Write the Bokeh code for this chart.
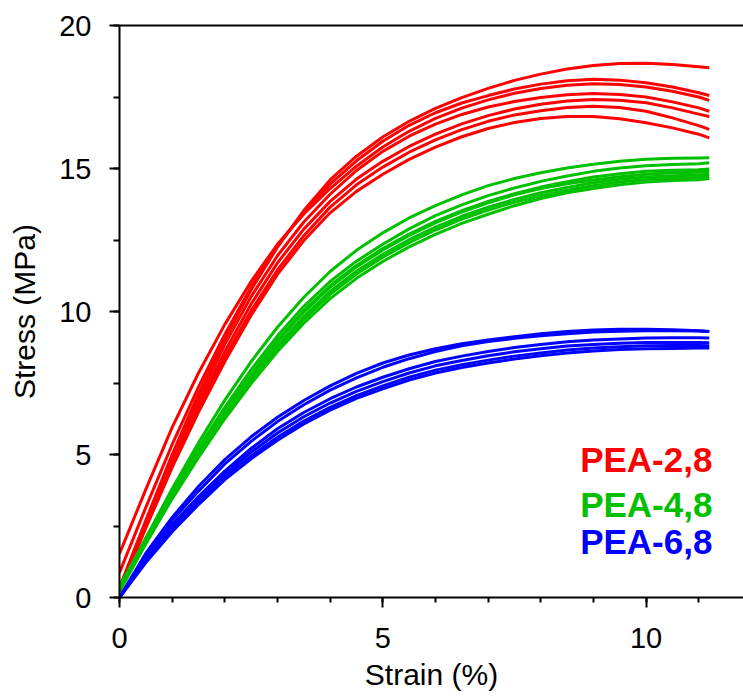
from bokeh.plotting import figure
from bokeh.models import Range1d, SingleIntervalTicker, LinearAxis, Label
from bokeh.embed import file_html
from bokeh.resources import INLINE

# Strain (%) sample positions shared by all curves
strain = [0, 0.5, 1, 1.5, 2, 2.5, 3, 3.5, 4, 4.5, 5, 5.5, 6, 6.5, 7, 7.5,
          8, 8.5, 9, 9.5, 10, 10.5, 11, 11.2]

# Stress (MPa) curves
pea_2_8 = [
    [0.35, 2.7, 5.0, 7.12, 9.05, 10.76, 12.25, 13.53, 14.6, 15.43, 16.1, 16.65, 17.1, 17.48, 17.8, 18.08, 18.3, 18.48, 18.6, 18.67, 18.68, 18.64, 18.56, 18.52],
    [0.87, 3.15, 5.35, 7.36, 9.2, 10.86, 12.3, 13.48, 14.45, 15.27, 15.95, 16.51, 16.95, 17.29, 17.55, 17.78, 17.95, 18.07, 18.12, 18.09, 18.0, 17.85, 17.65, 17.55],
    [1.53, 3.78, 5.95, 7.85, 9.55, 11.05, 12.35, 13.41, 14.3, 15.08, 15.75, 16.3, 16.75, 17.11, 17.4, 17.63, 17.8, 17.91, 17.96, 17.94, 17.85, 17.7, 17.5, 17.38],
    [0.3, 2.6, 4.8, 6.91, 8.85, 10.52, 11.95, 13.13, 14.1, 14.93, 15.6, 16.13, 16.55, 16.89, 17.15, 17.34, 17.48, 17.58, 17.62, 17.59, 17.5, 17.33, 17.12, 17.0],
    [0.25, 2.52, 4.7, 6.73, 8.6, 10.26, 11.7, 12.88, 13.85, 14.63, 15.25, 15.77, 16.2, 16.56, 16.85, 17.08, 17.25, 17.36, 17.41, 17.39, 17.3, 17.12, 16.9, 16.82],
    [0.3, 2.5, 4.6, 6.58, 8.4, 10.03, 11.45, 12.65, 13.65, 14.43, 15.05, 15.57, 16.0, 16.36, 16.65, 16.87, 17.02, 17.13, 17.18, 17.13, 17.0, 16.77, 16.5, 16.37],
    [0.2, 2.43, 4.55, 6.48, 8.25, 9.87, 11.3, 12.48, 13.45, 14.2, 14.8, 15.32, 15.75, 16.11, 16.4, 16.61, 16.75, 16.82, 16.82, 16.74, 16.6, 16.42, 16.2, 16.07],
]
pea_4_8 = [
    [0.3, 2.08, 3.8, 5.41, 6.9, 8.25, 9.45, 10.5, 11.4, 12.14, 12.75, 13.27, 13.7, 14.08, 14.4, 14.65, 14.85, 15.02, 15.15, 15.25, 15.32, 15.36, 15.37, 15.38],
    [0.35, 2.06, 3.7, 5.23, 6.65, 7.97, 9.15, 10.18, 11.05, 11.76, 12.35, 12.89, 13.35, 13.73, 14.05, 14.32, 14.55, 14.74, 14.9, 15.02, 15.1, 15.14, 15.17, 15.2],
    [0.3, 1.98, 3.6, 5.1, 6.5, 7.81, 9.0, 10.03, 10.9, 11.61, 12.2, 12.71, 13.15, 13.53, 13.85, 14.12, 14.35, 14.54, 14.7, 14.82, 14.9, 14.94, 14.96, 14.98],
    [0.25, 1.93, 3.55, 5.05, 6.45, 7.76, 8.95, 9.98, 10.85, 11.56, 12.15, 12.66, 13.1, 13.48, 13.8, 14.08, 14.3, 14.47, 14.6, 14.71, 14.8, 14.85, 14.87, 14.9],
    [0.4, 2.03, 3.6, 5.05, 6.4, 7.66, 8.8, 9.82, 10.7, 11.41, 12.0, 12.51, 12.95, 13.33, 13.65, 13.92, 14.15, 14.34, 14.5, 14.62, 14.7, 14.75, 14.77, 14.8],
    [0.2, 1.88, 3.5, 4.96, 6.3, 7.56, 8.7, 9.72, 10.6, 11.31, 11.9, 12.41, 12.85, 13.23, 13.55, 13.82, 14.05, 14.24, 14.4, 14.53, 14.62, 14.66, 14.69, 14.72],
    [0.3, 1.9, 3.45, 4.9, 6.25, 7.48, 8.6, 9.59, 10.45, 11.16, 11.75, 12.26, 12.7, 13.08, 13.4, 13.7, 13.95, 14.15, 14.3, 14.43, 14.53, 14.58, 14.61, 14.65],
]
pea_6_8 = [
    [0.0, 1.55, 2.8, 3.88, 4.82, 5.62, 6.3, 6.89, 7.4, 7.84, 8.2, 8.48, 8.7, 8.87, 9.0, 9.12, 9.22, 9.3, 9.35, 9.38, 9.38, 9.36, 9.33, 9.3],
    [0.0, 1.5, 2.7, 3.72, 4.67, 5.46, 6.15, 6.74, 7.25, 7.68, 8.05, 8.35, 8.6, 8.8, 8.95, 9.06, 9.15, 9.22, 9.28, 9.31, 9.33, 9.33, 9.32, 9.3],
    [0.0, 1.38, 2.55, 3.53, 4.42, 5.21, 5.9, 6.47, 6.95, 7.36, 7.7, 8.0, 8.25, 8.44, 8.6, 8.74, 8.85, 8.94, 9.0, 9.04, 9.07, 9.08, 9.08, 9.07],
    [0.0, 1.32, 2.45, 3.42, 4.32, 5.08, 5.75, 6.32, 6.8, 7.21, 7.55, 7.85, 8.1, 8.29, 8.45, 8.59, 8.7, 8.79, 8.85, 8.89, 8.92, 8.92, 8.92, 8.91],
    [0.0, 1.28, 2.4, 3.35, 4.22, 4.95, 5.6, 6.17, 6.65, 7.06, 7.4, 7.7, 7.95, 8.14, 8.3, 8.44, 8.55, 8.65, 8.72, 8.77, 8.8, 8.81, 8.81, 8.8],
    [0.0, 1.22, 2.3, 3.25, 4.12, 4.85, 5.5, 6.07, 6.55, 6.96, 7.3, 7.6, 7.85, 8.04, 8.2, 8.34, 8.45, 8.55, 8.62, 8.67, 8.7, 8.71, 8.72, 8.72],
]

series_names = ["PEA-2,8", "PEA-4,8", "PEA-6,8"]
series_colors = ["#FF0000", "#00C000", "#0000FF"]
series_data = [pea_2_8, pea_4_8, pea_6_8]

FONT = "Liberation Sans"

p = figure(width=743, height=700, output_backend="svg", toolbar_location=None,
           x_range=Range1d(0, 11.85), y_range=Range1d(0, 20),
           min_border_left=119, min_border_right=0, min_border_top=25,
           min_border_bottom=103, x_axis_type=None, y_axis_type=None)
p.outline_line_color = None
p.background_fill_color = "white"
p.border_fill_color = "white"

def style_axis(ax, minor_out):
    ax.axis_line_width = 2
    ax.axis_line_color = "black"
    ax.major_tick_line_width = 2
    ax.minor_tick_line_width = 2
    ax.major_tick_in = 0
    ax.minor_tick_in = 0
    ax.major_tick_out = 10
    ax.minor_tick_out = minor_out
    ax.major_label_text_font = FONT
    ax.major_label_text_font_size = "29px"
    ax.major_label_text_color = "black"
    ax.axis_label_text_font = FONT
    ax.axis_label_text_font_size = "30px"
    ax.axis_label_text_font_style = "normal"
    ax.axis_label_text_color = "black"

xaxis = LinearAxis(ticker=SingleIntervalTicker(interval=5, num_minor_ticks=5),
                   axis_label="Strain (%)")
style_axis(xaxis, 5)
xaxis.major_label_standoff = 20
xaxis.axis_label_standoff = 7
p.add_layout(xaxis, "below")

yaxis = LinearAxis(ticker=SingleIntervalTicker(interval=5, num_minor_ticks=2),
                   axis_label="Stress (MPa)")
style_axis(yaxis, 6)
yaxis.major_label_standoff = 18
yaxis.axis_label_standoff = 15
p.add_layout(yaxis, "left")

top = LinearAxis(ticker=SingleIntervalTicker(interval=5))
top.axis_line_width = 2
top.major_tick_line_color = None
top.minor_tick_line_color = None
top.major_tick_out = 0
top.minor_tick_out = 0
top.major_label_text_font_size = "0px"
top.major_label_standoff = 0
top.major_label_text_color = None
p.add_layout(top, "above")

for data, color in zip(series_data, series_colors):
    for curve in data:
        p.line(strain, curve, line_color=color, line_width=3, line_join="round")

legend_y = [4.82, 3.26, 1.95]
for name, color, ly in zip(series_names, series_colors, legend_y):
    p.add_layout(Label(x=11.26, y=ly, text=name, text_align="right",
                       text_baseline="alphabetic", text_color=color,
                       text_font=FONT, text_font_size="35px",
                       text_font_style="bold"))

open("out.html", "w").write(file_html(p, INLINE))
